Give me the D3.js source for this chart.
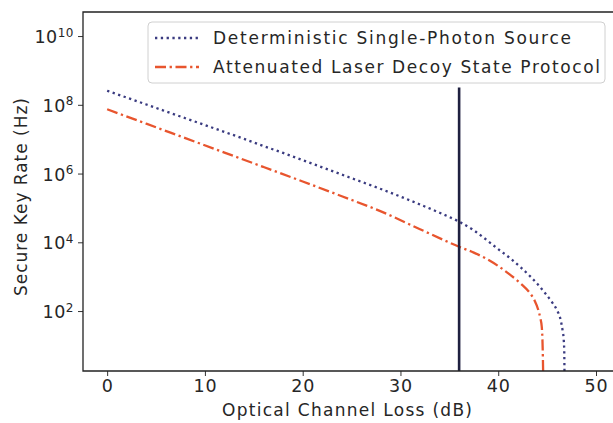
<!DOCTYPE html>
<html><head><meta charset="utf-8">
<script src="https://cdn.jsdelivr.net/npm/d3@7"></script>
<style>body{margin:0;background:#fff}svg{display:block}</style>
</head><body>
<svg id="c" width="613" height="423"></svg>
<script>
// ---- data ----
const spsLoss = [0,2,4,6,8,10,12,14,16,18,20,22,24,26,28,30,32,34,36,37.5,38.8,40,41.2,42.3,43.3,44.1,44.8,45.5,46.0,46.4,46.6,46.7,46.75,46.78];
const spsLogRate = [8.41,8.21,8.01,7.81,7.61,7.41,7.21,7.01,6.80,6.60,6.39,6.18,5.97,5.76,5.55,5.33,5.10,4.86,4.60,4.35,4.07,3.80,3.54,3.27,3.0,2.76,2.52,2.26,2.03,1.72,1.40,1.16,0.85,0.1];
const decoyLoss = [0,4,8,12,16,20,24,28,32,36,37.5,38.8,40,41.2,42.3,43.25,43.7,44.1,44.3,44.45,44.55,44.6];
const decoyLogRate = [7.87,7.45,7.03,6.61,6.19,5.77,5.34,4.90,4.38,3.87,3.70,3.52,3.31,3.06,2.80,2.52,2.32,2.03,1.80,1.55,0.87,0.1];
const markerLoss = 36;
const xTicks = [0,10,20,30,40,50];
const yTickExps = [2,4,6,8,10];
const seriesNames = ["Deterministic Single-Photon Source","Attenuated Laser Decoy State Protocol"];

// ---- layout ----
const svg = d3.select("#c");
const L = 83, T = 12, B = 371, R = 640;
const font = "DejaVu Sans, sans-serif";
const txt = "#262626";
const x = d3.scaleLinear().domain([-2.47, 54.5]).range([L, R]);
const y = d3.scaleLog().domain([Math.pow(10,0.256), Math.pow(10,10.7)]).range([B, T]);

const defs = svg.append("defs");
defs.append("clipPath").attr("id","clip").append("rect").attr("x",L).attr("y",T).attr("width",R-L).attr("height",B-T);

const plot = svg.append("g").attr("clip-path","url(#clip)");
const line = d3.line().x(d=>x(d[0])).y(d=>y(Math.pow(10,d[1]))).curve(d3.curveMonotoneX);

plot.append("path").datum(spsLoss.map((v,i)=>[v,spsLogRate[i]]))
  .attr("d",line).attr("fill","none").attr("stroke","#3a3b80").attr("stroke-width",2.3)
  .attr("stroke-dasharray","2.3 3.5");
plot.append("path").datum(decoyLoss.map((v,i)=>[v,decoyLogRate[i]]))
  .attr("d",line).attr("fill","none").attr("stroke","#e8552e").attr("stroke-width",2.3)
  .attr("stroke-dasharray","11 3.6 2.3 3.6");
svg.append("line").attr("x1",x(markerLoss)).attr("x2",x(markerLoss))
  .attr("y1",y(Math.pow(10,8.5))).attr("y2",B)
  .attr("stroke","#1f2040").attr("stroke-width",2.6);

// ---- axes ----
const xa = svg.append("g").attr("transform",`translate(0,${B})`)
  .call(d3.axisBottom(x).tickValues(xTicks).tickSize(5).tickPadding(4).tickFormat(d3.format("d")));
const ya = svg.append("g").attr("transform",`translate(${L},0)`)
  .call(d3.axisLeft(y).tickValues(yTickExps.map(e=>Math.pow(10,e))).tickSize(5).tickPadding(4).tickFormat(()=> ""));
[xa,ya].forEach(a=>{
  a.select(".domain").remove();
  a.selectAll(".tick line").attr("stroke","#333").attr("stroke-width",1);
  a.selectAll("text").attr("font-family",font).attr("font-size",17.5).attr("fill",txt);
});
xa.selectAll(".tick text").attr("letter-spacing",0.8);
ya.selectAll(".tick text").each(function(d,i){
  const t = d3.select(this);
  t.text("10").attr("dy","0.38em").attr("letter-spacing",0.5);
  t.append("tspan").attr("dy","-0.55em").attr("font-size",12).text(yTickExps[i]);
});
// spines
svg.append("path").attr("d",`M${R},${T}H${L}V${B}H${R}`).attr("fill","none").attr("stroke","#222").attr("stroke-width",1.3);

// axis labels
svg.append("text").attr("x",222).attr("y",416)
  .attr("font-family",font).attr("font-size",17).attr("fill",txt)
  .attr("textLength",250).attr("lengthAdjust","spacing").text("Optical Channel Loss (dB)");
svg.append("text").attr("transform","translate(27,296) rotate(-90)")
  .attr("font-family",font).attr("font-size",17).attr("fill",txt)
  .attr("textLength",198).attr("lengthAdjust","spacing").text("Secure Key Rate (Hz)");

// ---- legend ----
const lg = svg.append("g");
lg.append("rect").attr("x",148).attr("y",22).attr("width",457).attr("height",61).attr("rx",4)
  .attr("fill","#fff").attr("fill-opacity",0.85).attr("stroke","#d0d0d0");
const styles = [{c:"#3a3b80",d:"2.3 3.5"},{c:"#e8552e",d:"11 3.6 2.3 3.6"}];
const legW = [358, 387];
seriesNames.forEach((n,i)=>{
  const yy = 38 + i*29;
  lg.append("line").attr("x1",155).attr("x2",199).attr("y1",yy).attr("y2",yy)
    .attr("stroke",styles[i].c).attr("stroke-width",2.3).attr("stroke-dasharray",styles[i].d);
  lg.append("text").attr("x",213).attr("y",yy).attr("dy","0.36em")
    .attr("font-family",font).attr("font-size",17).attr("fill",txt)
    .attr("textLength",legW[i]).attr("lengthAdjust","spacing").text(n);
});
</script>
</body></html>
